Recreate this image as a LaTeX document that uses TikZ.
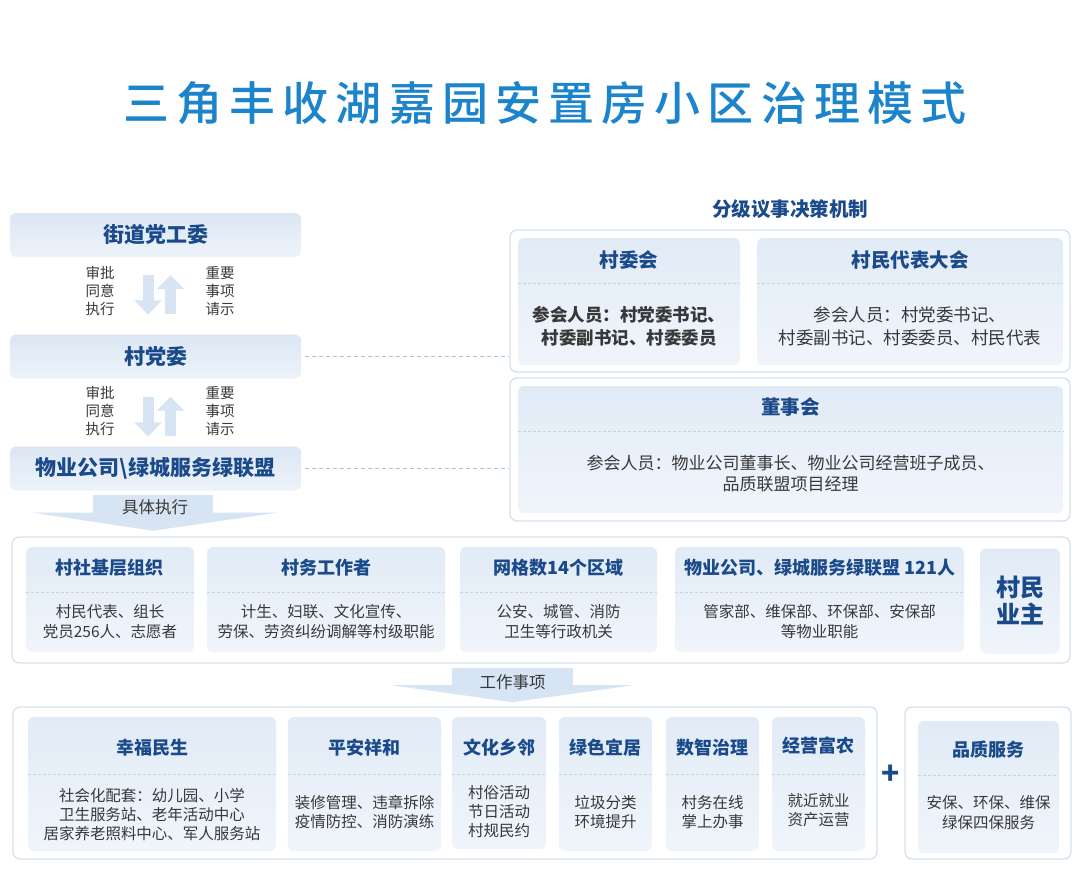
\documentclass[tikz,border=0pt]{standalone}
\usepackage{fontspec}
\setmainfont{Noto Sans CJK SC}
\newfontfamily\titlefont{Noto Sans CJK SC}[UprightFont=* Medium, LetterSpace=15.5]
\usetikzlibrary{arrows.meta}

\definecolor{titleblue}{HTML}{1C84CA}
\definecolor{navy}{HTML}{1B4A8A}
\definecolor{ink}{HTML}{383838}
\definecolor{boxtop}{HTML}{DCE7F4}
\definecolor{boxbot}{HTML}{EDF3FA}
\definecolor{cardtop}{HTML}{E1EBF6}
\definecolor{cardbot}{HTML}{F0F5FB}
\definecolor{panelline}{HTML}{D5E1EE}
\definecolor{sepgray}{HTML}{C9D4E1}
\definecolor{arrowblue}{HTML}{D6E4F3}
\definecolor{linkblue}{HTML}{A7C1E2}

\begin{document}
\begin{tikzpicture}[x=1pt, y=-1pt,
  every node/.style={inner sep=0pt, align=center, text=ink},
  leftbox/.style={rounded corners=6pt, top color=boxtop, bottom color=boxbot, minimum width=291pt, minimum height=44pt, font=\fontsize{21}{24}\selectfont\bfseries, text=navy},
  panel/.style={draw=panelline, line width=1.3pt, fill=white, rounded corners=7pt},
  card/.style={rounded corners=6pt, top color=cardtop, bottom color=cardbot},
  head/.style={font=\fontsize{18}{22}\selectfont\bfseries, text=navy},
  body/.style={font=\fontsize{15.5}{20}\selectfont},
  bigbody/.style={font=\fontsize{17.5}{23}\selectfont},
  note/.style={font=\fontsize{14.5}{18}\selectfont},
  sepline/.style={draw=sepgray, dash pattern=on 3pt off 2pt, line width=0.8pt},
  flow/.style={line width=11pt, draw=arrowblue, -{Triangle[width=27pt,length=14pt]}},
  linkline/.style={draw=linkblue, dash pattern=on 4pt off 3pt, line width=1pt}]

\fill[white] (0,0) rectangle (1080,873);

% title
\node[font=\fontsize{46}{50}\selectfont\titlefont, text=titleblue] (title) at (545,103) {三角丰收湖嘉园安置房小区治理模式};

% left column
\node[leftbox] (jd) at (155.5,235) {街道党工委};
\node[leftbox] (cdw) at (155.5,356.5) {村党委};
\node[leftbox] (wygs) at (155.5,468.5) {物业公司\textbackslash 绿城服务绿联盟};

\draw[flow] ([xshift=-7.5pt, yshift=-18pt]jd.south) -- ([xshift=-7.5pt, yshift=20pt]cdw.north);
\draw[flow] ([xshift=15pt, yshift=20pt]cdw.north) -- ([xshift=15pt, yshift=-18pt]jd.south);
\draw[flow] ([xshift=-7.5pt, yshift=-18pt]cdw.south) -- ([xshift=-7.5pt, yshift=10pt]wygs.north);
\draw[flow] ([xshift=15pt, yshift=10pt]wygs.north) -- ([xshift=15pt, yshift=-18pt]cdw.south);
\node[note] (spa) at (100,291) {审批\\同意\\执行};
\node[note] (qsa) at (220,291) {重要\\事项\\请示};
\node[note] (spb) at (100,411) {审批\\同意\\执行};
\node[note] (qsb) at (220,411) {重要\\事项\\请示};

% 具体执行
\node[fill=arrowblue, minimum width=120pt, minimum height=18pt] (zx) at (153,503.5) {};
\fill[arrowblue] ([xshift=-60pt]zx.south west) -- ([xshift=64pt]zx.south east) -- ([yshift=-18pt]zx.south) -- cycle;
\node[font=\fontsize{16.5}{18}\selectfont] (zxt) at (155,507) {具体执行};

% decision panels
\node[font=\fontsize{19.5}{22}\selectfont\bfseries, text=navy] (jz) at (790,209) {分级议事决策机制};
\node[panel, minimum width=560pt, minimum height=142pt] (pnA) at (790,301) {};
\node[panel, minimum width=560pt, minimum height=143pt] (pnB) at (790,449.5) {};
\draw[linkline, shorten <=4pt] (cdw.east) -- (cdw.east -| pnA.west);
\draw[linkline, shorten <=4pt] (wygs.east) -- (wygs.east -| pnB.west);

\node[card, minimum width=222pt, minimum height=127pt] (cwh) at (629,301.5) {};
\draw[sepline] (cwh.west |- 0,283) -- (cwh.east |- 0,283);
\node[head, font=\fontsize{19.5}{22}\selectfont\bfseries] (cwhh) at (629,260) {村委会};
\node[bigbody, font=\fontsize{17.5}{23}\selectfont\bfseries] (cwhb) at (629,326.5) {参会人员：村党委书记、\\村委副书记、村委委员};

\node[card, minimum width=306pt, minimum height=127pt] (cmdb) at (910,301.5) {};
\draw[sepline] (cmdb.west |- 0,283) -- (cmdb.east |- 0,283);
\node[head, font=\fontsize{19.5}{22}\selectfont\bfseries] (cmdbh) at (910,260) {村民代表大会};
\node[bigbody] (cmdbb) at (910,326.5) {参会人员：村党委书记、\\村委副书记、村委委员、村民代表};

\node[card, minimum width=545pt, minimum height=127pt] (dsh) at (790.5,449.5) {};
\draw[sepline] (dsh.west |- 0,431) -- (dsh.east |- 0,431);
\node[head, font=\fontsize{19.5}{22}\selectfont\bfseries] (dshh) at (790.5,407) {董事会};
\node[bigbody, font=\fontsize{17}{21}\selectfont] (dshb) at (790.5,473.5) {参会人员：物业公司董事长、物业公司经营班子成员、\\品质联盟项目经理};

% execution band
\node[panel, minimum width=1058pt, minimum height=126pt] (pnC) at (541,600) {};

\node[card, minimum width=168pt, minimum height=105pt] (jc) at (110,599.5) {};
\draw[sepline] (jc.west |- 0,592) -- (jc.east |- 0,592);
\node[head] (jch) at (110,568) {村社基层组织};
\node[body] (jcb) at (110,622) {村民代表、组长\\党员256人、志愿者};

\node[card, minimum width=238pt, minimum height=105pt] (cw) at (326,599.5) {};
\draw[sepline] (cw.west |- 0,592) -- (cw.east |- 0,592);
\node[head] (cwh2) at (326,568) {村务工作者};
\node[body] (cwb) at (326,622) {计生、妇联、文化宣传、\\劳保、劳资纠纷调解等村级职能};

\node[card, minimum width=197pt, minimum height=105pt] (wg) at (558.5,599.5) {};
\draw[sepline] (wg.west |- 0,592) -- (wg.east |- 0,592);
\node[head] (wgh) at (558.5,568) {网格数14个区域};
\node[body] (wgb) at (558.5,622) {公安、城管、消防\\卫生等行政机关};

\node[card, minimum width=289pt, minimum height=105pt] (wy) at (819.5,599.5) {};
\draw[sepline] (wy.west |- 0,592) -- (wy.east |- 0,592);
\node[head] (wyh) at (819.5,568) {物业公司、绿城服务绿联盟 121人};
\node[body] (wyb) at (819.5,622) {管家部、维保部、环保部、安保部\\等物业职能};

\node[card, minimum width=80pt, minimum height=105pt, font=\fontsize{24}{27}\selectfont\bfseries, text=navy] (cm) at (1020,601) {村民\\业主};

% 工作事项
\node[fill=arrowblue, minimum width=121pt, minimum height=17pt] (gz) at (512.5,676.5) {};
\fill[arrowblue] ([xshift=-60pt]gz.south west) -- ([xshift=60pt]gz.south east) -- ([yshift=-17pt]gz.south) -- cycle;
\node[font=\fontsize{16.5}{18}\selectfont] (gzt) at (512.5,682) {工作事项};

% work items
\node[panel, minimum width=864pt, minimum height=152pt] (pnD) at (445,783) {};
\node[panel, minimum width=166pt, minimum height=152pt] (pnE) at (988,783) {};
\node[font=\fontsize{30}{30}\selectfont\bfseries, text=navy] (plus) at (891,775) {+};

\node[card, minimum width=248pt, minimum height=134pt] (xf) at (152,784) {};
\draw[sepline] (xf.west |- 0,774) -- (xf.east |- 0,774);
\node[head] (xfh) at (152,748) {幸福民生};
\node[body, font=\fontsize{15.5}{19}\selectfont] (xfb) at (152,815) {社会化配套：幼儿园、小学\\卫生服务站、老年活动中心\\居家养老照料中心、军人服务站};

\node[card, minimum width=153pt, minimum height=134pt] (pa) at (364.5,784) {};
\draw[sepline] (pa.west |- 0,774) -- (pa.east |- 0,774);
\node[head] (pah) at (364.5,748) {平安祥和};
\node[body, font=\fontsize{15.5}{19}\selectfont] (pab) at (364.5,812.5) {装修管理、违章拆除\\疫情防控、消防演练};

\node[card, minimum width=94pt, minimum height=132pt] (wh) at (499,783) {};
\draw[sepline] (wh.west |- 0,774) -- (wh.east |- 0,774);
\node[head] (whh) at (499,748) {文化乡邻};
\node[body, font=\fontsize{15.5}{19}\selectfont] (whb) at (499,812) {村俗活动\\节日活动\\村规民约};

\node[card, minimum width=93pt, minimum height=134pt] (ls) at (605.5,784) {};
\draw[sepline] (ls.west |- 0,774) -- (ls.east |- 0,774);
\node[head] (lsh) at (605.5,748) {绿色宜居};
\node[body, font=\fontsize{15.5}{19}\selectfont] (lsb) at (605.5,812.5) {垃圾分类\\环境提升};

\node[card, minimum width=93pt, minimum height=134pt] (sz) at (712.5,784) {};
\draw[sepline] (sz.west |- 0,774) -- (sz.east |- 0,774);
\node[head] (szh) at (712.5,748) {数智治理};
\node[body, font=\fontsize{15.5}{19}\selectfont] (szb) at (712.5,812.5) {村务在线\\掌上办事};

\node[card, minimum width=93pt, minimum height=134pt] (jy) at (818.5,784) {};
\draw[sepline] (jy.west |- 0,774) -- (jy.east |- 0,774);
\node[head] (jyh) at (818.5,746) {经营富农};
\node[body, font=\fontsize{15.5}{19}\selectfont] (jyb) at (818.5,810) {就近就业\\资产运营};

\node[card, minimum width=141pt, minimum height=132pt] (pz) at (988.5,787) {};
\draw[sepline] (pz.west |- 0,775) -- (pz.east |- 0,775);
\node[head] (pzh) at (988.5,750) {品质服务};
\node[body, font=\fontsize{15.5}{20}\selectfont] (pzb) at (988.5,813) {安保、环保、维保\\绿保四保服务};
\end{tikzpicture}
\end{document}
